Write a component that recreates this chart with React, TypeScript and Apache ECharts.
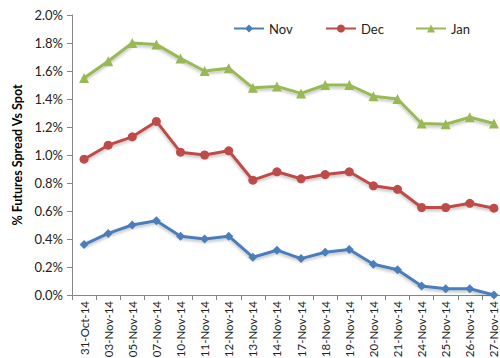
import React, { useEffect, useRef } from "react";
import * as echarts from "echarts";

const categories = [
  "31-Oct-14", "03-Nov-14", "05-Nov-14", "07-Nov-14", "10-Nov-14", "11-Nov-14",
  "12-Nov-14", "13-Nov-14", "14-Nov-14", "17-Nov-14", "18-Nov-14", "19-Nov-14",
  "20-Nov-14", "21-Nov-14", "24-Nov-14", "25-Nov-14", "26-Nov-14", "27-Nov-14",
];
const novValues = [0.36, 0.44, 0.5, 0.53, 0.42, 0.4, 0.42, 0.27, 0.32, 0.26, 0.305, 0.325, 0.22, 0.18, 0.065, 0.045, 0.045, 0.0];
const decValues = [0.97, 1.07, 1.13, 1.24, 1.02, 1.0, 1.03, 0.82, 0.88, 0.83, 0.86, 0.88, 0.78, 0.755, 0.625, 0.625, 0.655, 0.62];
const janValues = [1.55, 1.67, 1.8, 1.79, 1.69, 1.6, 1.62, 1.48, 1.49, 1.44, 1.5, 1.5, 1.42, 1.4, 1.225, 1.22, 1.27, 1.225];
const yTicks = { min: 0, max: 2.0, interval: 0.2 };

const FONT = "Lato";

export default function App() {
  const ref = useRef<HTMLDivElement>(null);
  useEffect(() => {
    if (!ref.current) return;
    const chart = echarts.init(ref.current, undefined, { renderer: "svg" });
    const mk = (name: string, data: number[], color: string, symbol: string, size: number) => ({
      name,
      type: "line",
      data,
      symbol,
      symbolSize: size,
      showSymbol: true,
      itemStyle: { color },
      lineStyle: {
        color,
        width: 3,
        shadowColor: "rgba(0,0,0,0.25)",
        shadowBlur: 3,
        shadowOffsetY: 2,
      },
    });
    const legendBase = {
      top: 17,
      itemWidth: 30,
      itemHeight: 10,
      textStyle: { fontFamily: FONT, fontSize: 13, color: "#222" },
    };
    chart.setOption({
      animation: false,
      textStyle: { fontFamily: FONT },
      legend: [
        { ...legendBase, left: 228, data: ["Nov"] },
        { ...legendBase, left: 320, data: ["Dec"] },
        { ...legendBase, left: 410, data: ["Jan"] },
      ],
      grid: { left: 72, top: 15, height: 280, width: 434, containLabel: false, outerBoundsMode: "none" },
      xAxis: {
        type: "category",
        data: categories,
        boundaryGap: true,
        axisLine: { lineStyle: { color: "#868686", width: 1 } },
        axisTick: { show: true, alignWithLabel: false, length: 5, lineStyle: { color: "#868686" } },
        axisLabel: {
          rotate: 90,
          interval: 0,
          margin: 6,
          fontFamily: FONT,
          fontSize: 11.5,
          color: "#222",
        },
        splitLine: { show: false },
      },
      yAxis: {
        type: "value",
        min: yTicks.min,
        max: yTicks.max,
        interval: yTicks.interval,
        name: "% Futures Spread Vs Spot",
        nameLocation: "middle",
        nameGap: 47,
        nameTextStyle: { fontFamily: FONT, fontSize: 12.5, fontWeight: "bold", color: "#000" },
        axisLine: { show: true, lineStyle: { color: "#868686", width: 1 } },
        axisTick: { show: true, length: 5, lineStyle: { color: "#868686" } },
        axisLabel: {
          margin: 9,
          fontFamily: FONT,
          fontSize: 13,
          color: "#222",
          formatter: (v: number) => `${v.toFixed(1)}%`,
        },
        splitLine: { show: false },
      },
      series: [
        mk("Nov", novValues, "#4A7EBB", "diamond", 9),
        mk("Dec", decValues, "#BE4B48", "circle", 9),
        mk("Jan", janValues, "#98B954", "triangle", 10),
      ],
    });
    return () => chart.dispose();
  }, []);
  return (
    <div
      ref={ref}
      style={{ position: "fixed", left: 0, top: 0, width: 500, height: 358, background: "#fff" }}
    />
  );
}
